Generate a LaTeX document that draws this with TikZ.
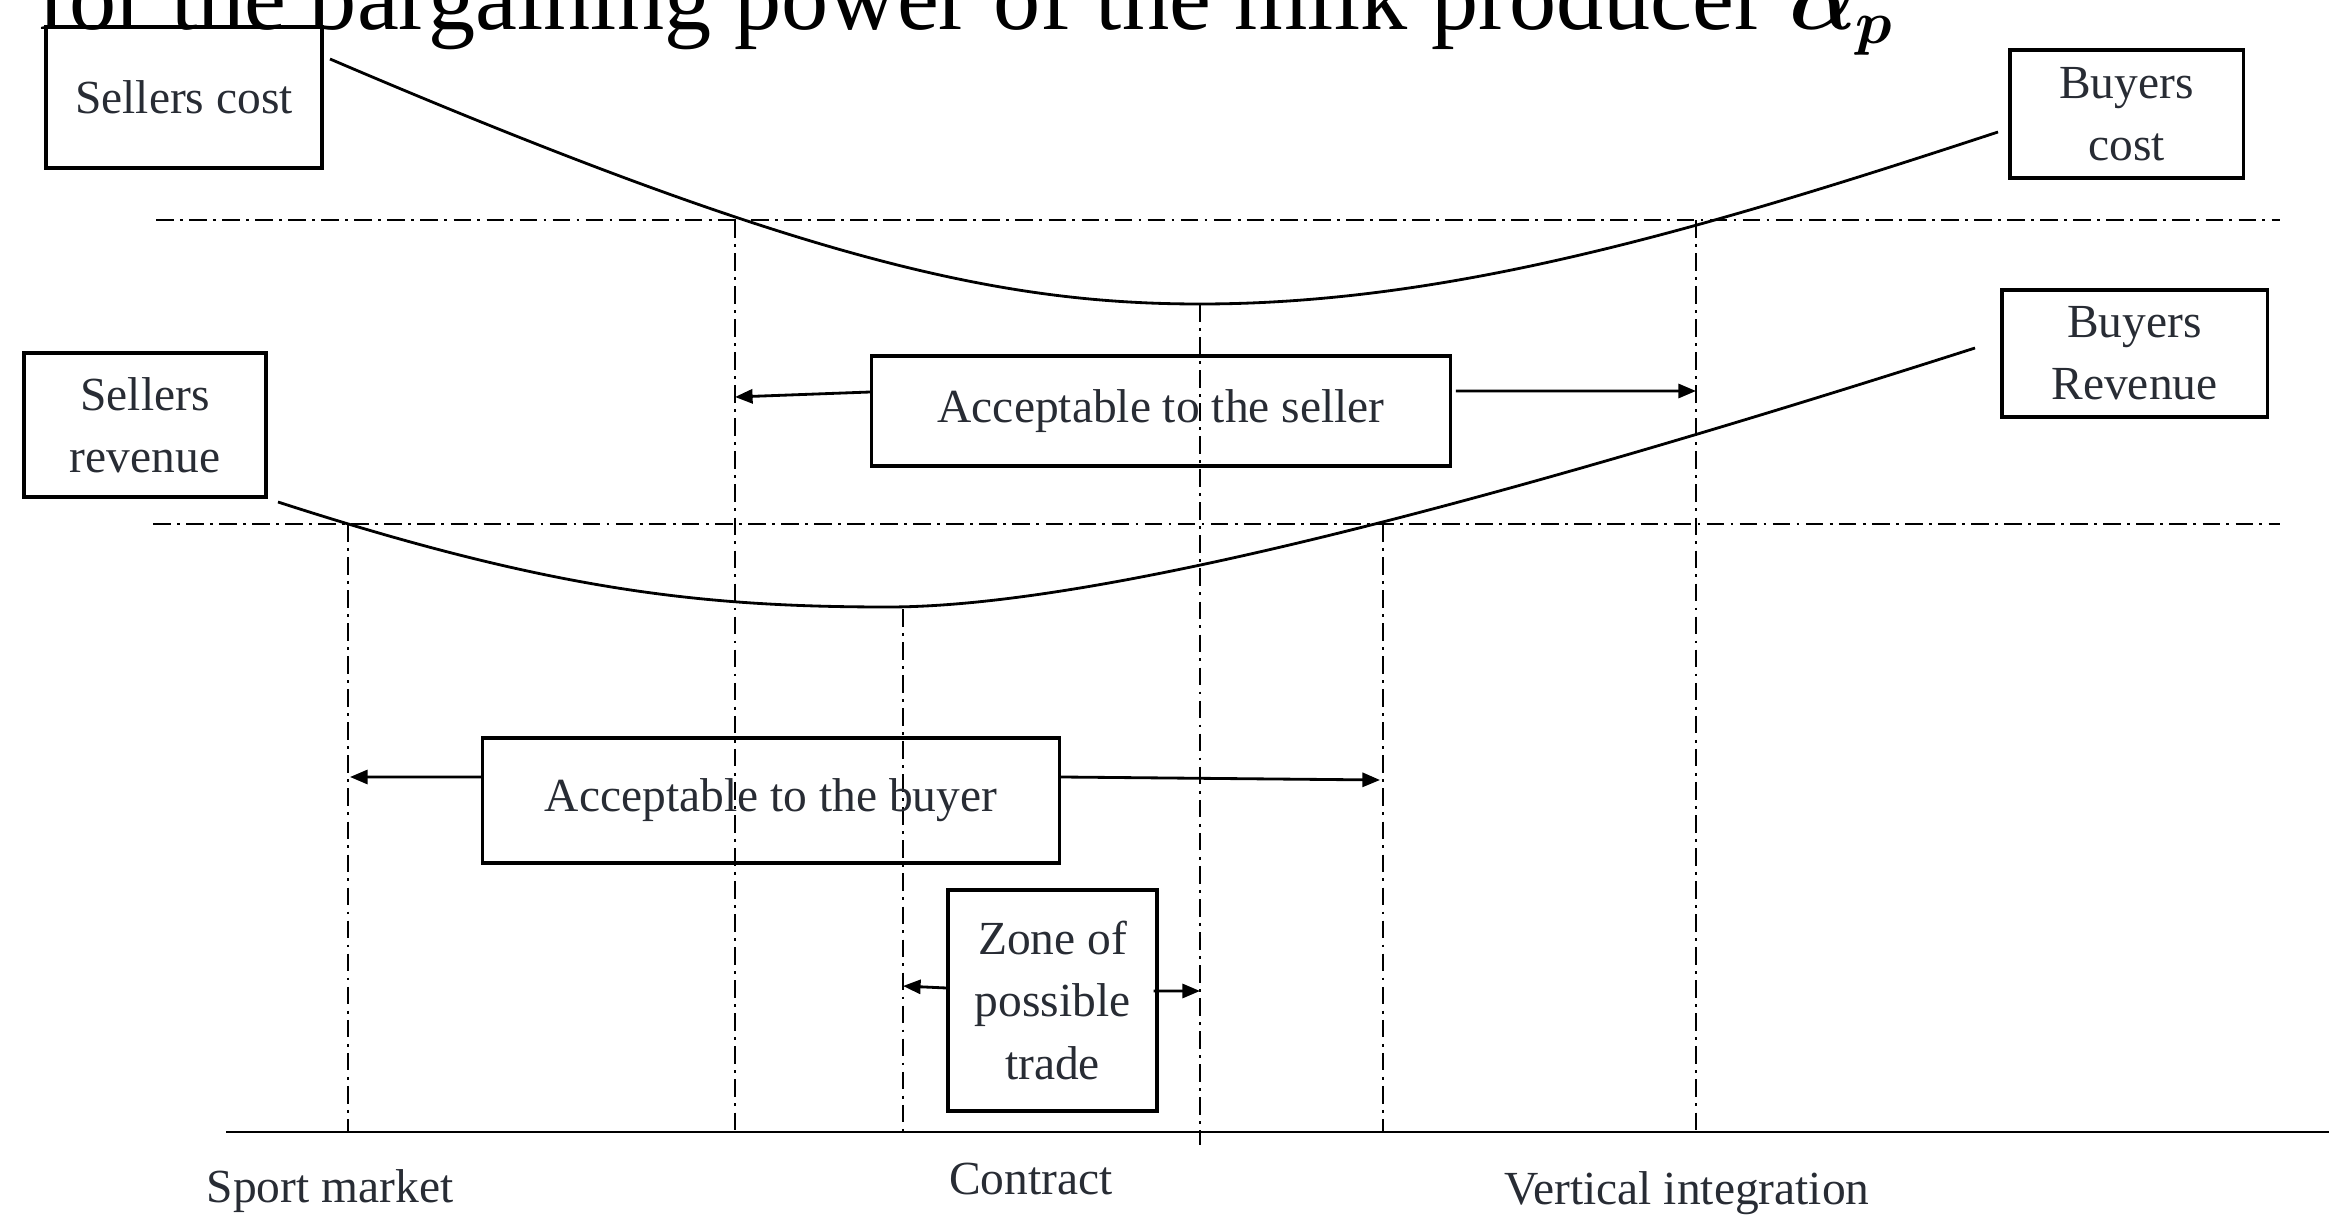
\documentclass[tikz,border=0pt]{standalone}
\usepackage{fontspec}
\setmainfont{Liberation Serif}
\usepackage{bm}
\usetikzlibrary{arrows.meta}
\definecolor{textgrey}{RGB}{40,44,52}

\begin{document}
\begin{tikzpicture}[x=0.01cm, y=-0.01cm,
  every node/.style={align=center, inner sep=0pt, text=textgrey, font=\fontsize{13.5}{17.7}\selectfont},
  box/.style={rectangle, draw=black, line width=0.9pt},
  guide/.style={line width=0.45pt, dash pattern=on 5pt off 1.8pt on 0.8pt off 1.8pt},
  curve/.style={line width=0.8pt},
  arr/.style={-{Triangle[length=5pt,width=4pt]}, line width=0.8pt}]
\clip (0,0) rectangle (2329,1215);

% title, cut off at the top
\node (title) [anchor=base west, text=black, font=\fontsize{26.8}{32}\selectfont] at (37,30) {for the bargaining power of the milk producer $\bm{\alpha_p}$};

% guide lines
\draw[guide] (156,220) -- (2280,220);
\draw[guide] (153,524) -- (2280,524);
\foreach \x/\ya/\yb in {348/524/1132, 735/220/1132, 903/609/1132, 1200/304/1145, 1383/524/1132, 1696/220/1132}
  \draw[guide] (\x,\ya) -- (\x,\yb);
\draw[line width=0.8pt] (226,1132) -- (2329,1132);

% cost and revenue curves
\draw[curve] (330,59) .. controls (800,260) and (1000,304) .. (1200,304) .. controls (1450,304) and (1700,230) .. (1998,132);
\draw[curve] (278,502) .. controls (550,590) and (700,607) .. (888,607) .. controls (1100,607) and (1500,500) .. (1975,348);

% boxes
\node (scost) [box, minimum width=2.76cm, minimum height=1.41cm] at (184,97.5) {Sellers cost};
\node (bcost) [box, minimum width=2.33cm, minimum height=1.28cm] at (2126.5,114) {Buyers\\cost};
\node (brev) [box, minimum width=2.65cm, minimum height=1.27cm] at (2134.5,353.5) {Buyers\\Revenue};
\node (srev) [box, minimum width=2.42cm, minimum height=1.44cm] at (145,425) {Sellers\\revenue};
\node (sell) [box, minimum width=5.78cm, minimum height=1.10cm] at (1161,411) {Acceptable to the seller};
\node (buy) [box, minimum width=5.76cm, minimum height=1.25cm] at (771,800.5) {Acceptable to the buyer};
\node (zone) [box, minimum width=2.09cm, minimum height=2.21cm] at (1052.5,1000.5) {Zone of\\possible\\trade};

% arrow ends on the guide lines
\coordinate (sellL) at (735,397);
\coordinate (sellR) at (1696,391);
\coordinate (buyL) at (350,777);
\coordinate (buyR) at (1380,780);
\coordinate (zoneL) at (903,986);
\coordinate (zoneR) at (1200,991);

\draw[arr] ([yshift=0.19cm]sell.west) -- (sellL);
\draw[arr] ([xshift=0.04cm, yshift=0.2cm]sell.east) -- (sellR);
\draw[arr] ([yshift=0.235cm]buy.west) -- (buyL);
\draw[arr] ([yshift=0.235cm]buy.east) -- (buyR);
\draw[arr] ([yshift=0.125cm]zone.west) -- (zoneL);
\draw[arr] ([xshift=-0.05cm, yshift=0.095cm]zone.east) -- (zoneR);

% axis labels
\node (spot) [anchor=base] at (330,1202) {Sport market};
\node (contract) [anchor=base] at (1031,1194) {Contract};
\node (vert) [anchor=base] at (1687,1204) {Vertical integration};
\end{tikzpicture}
\end{document}
